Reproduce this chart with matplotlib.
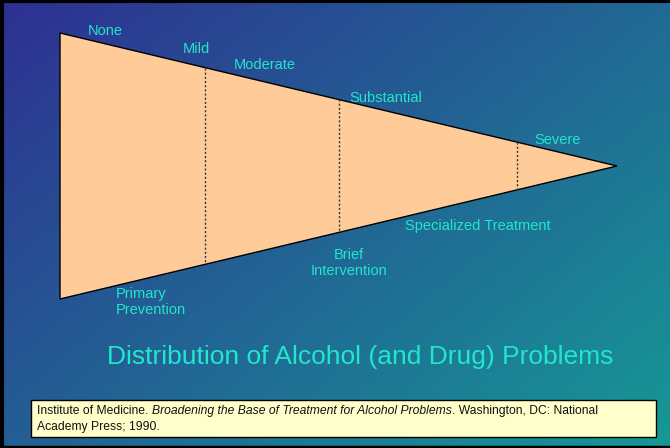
import numpy as np
import matplotlib
matplotlib.use('Agg')
import matplotlib.pyplot as plt
from matplotlib.patches import Polygon, Rectangle

# problem levels along the top edge, responses along the bottom edge
problem_levels = ['None', 'Mild', 'Moderate', 'Substantial', 'Severe']
responses = ['Primary\nPrevention', 'Brief\nIntervention', 'Specialized Treatment']
# where the dotted dividers cut the wedge (fraction of its length)
divider_frac = [0.26, 0.50, 0.82]

title = 'Distribution of Alcohol (and Drug) Problems'
cite_parts = [('Institute of Medicine. ', 'normal'),
              ('Broadening the Base of Treatment for Alcohol Problems', 'italic'),
              ('. Washington, DC: National', 'normal')]
cite_line2 = 'Academy Press; 1990.'

W, H = 670, 448
CYAN = '#22E6CC'
PEACH = '#FFCC99'

plt.rcParams['font.family'] = ['Liberation Sans', 'DejaVu Sans']

fig = plt.figure(figsize=(W / 100, H / 100), dpi=100)
ax = fig.add_axes([0, 0, 1, 1])
ax.set_xlim(0, W)
ax.set_ylim(H, 0)
ax.axis('off')

# diagonal gradient background
c0 = np.array([46, 48, 146]) / 255
c1 = np.array([22, 152, 150]) / 255
xx, yy = np.meshgrid(np.linspace(0, 1, 200), np.linspace(0, 1, 140))
t = (0.55 * xx + 0.45 * yy)[..., None]
ax.imshow(c0 + (c1 - c0) * t, extent=[0, W, H, 0], aspect='auto', zorder=0)

# wedge
x_left, x_apex = 60, 617
y_top, y_bot, y_apex = 33, 299, 166
ax.add_patch(Polygon([(x_left, y_top), (x_apex, y_apex), (x_left, y_bot)],
                     closed=True, facecolor=PEACH, edgecolor='black', lw=1.0, zorder=2))

for f in divider_frac:
    x = x_left + f * (x_apex - x_left)
    yt = y_top + f * (y_apex - y_top)
    yb = y_bot - f * (y_bot - y_apex)
    ax.plot([x, x], [yt, yb], color='#333333', lw=1.0, ls=(0, (1.5, 1.5)), zorder=3)

lab_pos = [(105, 31), (196, 49), (265, 65), (386, 98), (558, 140)]
for lab, (x, y) in zip(problem_levels, lab_pos):
    ax.text(x, y, lab, color=CYAN, fontsize=10.5, ha='center', va='center')

ax.text(116, 302, responses[0], color=CYAN, fontsize=10.5, ha='left', va='center',
        linespacing=1.25)
ax.text(349, 263, responses[1], color=CYAN, fontsize=10.5, ha='center', va='center',
        linespacing=1.25)
ax.text(478, 226, responses[2], color=CYAN, fontsize=10.5, ha='center', va='center')

ax.text(360, 357, title, color=CYAN, fontsize=19, ha='center', va='center')

# citation box
ax.add_patch(Rectangle((31, 400), 625, 37, facecolor='#FFFFCC', edgecolor='black',
                       lw=1.0, zorder=4))
cfs = 8.7
prev = ax.text(37, 411, cite_parts[0][0], fontsize=cfs,
               style=cite_parts[0][1], ha='left', va='center', color='#111111', zorder=5)
for txt, st in cite_parts[1:]:
    prev = ax.annotate(txt, xy=(1, 0), xycoords=prev, ha='left', va='bottom',
                       fontsize=cfs, style=st, color='#111111', zorder=5)
ax.text(37, 427, cite_line2, fontsize=cfs, ha='left', va='center',
        color='#111111', zorder=5)

# dark frame on top, left, bottom
ax.plot([0, W], [1, 1], color='black', lw=3, zorder=6)
ax.plot([1.5, 1.5], [0, H], color='black', lw=3, zorder=6)
ax.plot([0, W], [H - 1, H - 1], color='black', lw=2.5, zorder=6)

fig.savefig('out.png', dpi=100)
